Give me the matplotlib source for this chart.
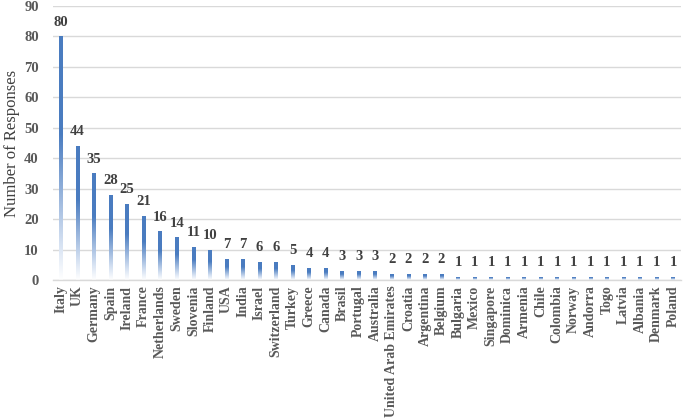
import matplotlib
matplotlib.use("Agg")
import matplotlib.pyplot as plt
import numpy as np
from matplotlib.colors import LinearSegmentedColormap

countries = ["Italy", "UK", "Germany", "Spain", "Ireland", "France", "Netherlands",
             "Sweden", "Slovenia", "Finland", "USA", "India", "Israel", "Switzerland",
             "Turkey", "Greece", "Canada", "Brasil", "Portugal", "Australia",
             "United Arab Emirates", "Croatia", "Argentina", "Belgium", "Bulgaria",
             "Mexico", "Singapore", "Dominica", "Armenia", "Chile", "Colombia",
             "Norway", "Andorra", "Togo", "Latvia", "Albania", "Denmark", "Poland"]
responses = [80, 44, 35, 28, 25, 21, 16, 14, 11, 10, 7, 7, 6, 6, 5, 4, 4, 3, 3, 3,
             2, 2, 2, 2, 1, 1, 1, 1, 1, 1, 1, 1, 1, 1, 1, 1, 1, 1]
y_ticks = [0, 10, 20, 30, 40, 50, 60, 70, 80, 90]

plt.rcParams['font.family'] = ['Liberation Serif', 'DejaVu Serif']

fig = plt.figure(figsize=(6.85, 4.2), dpi=100)
ax = fig.add_axes([0.077, 0.3333, 0.9176, 0.6524])

bar_color = "#4A7CC0"
cmap = LinearSegmentedColormap.from_list(
    "fade", [(0.0, "#FFFFFF"), (0.15, "#D5E1F2"), (0.6, bar_color), (1.0, bar_color)])
grad = np.linspace(0, 1, 256).reshape(-1, 1)

x = np.arange(len(countries))
w = 0.22
bars = ax.bar(x, responses, width=w, color="none", edgecolor="none", zorder=2)
for b in bars:
    x0 = b.get_x()
    h = b.get_height()
    im = ax.imshow(grad, extent=[x0, x0 + w, 0, h], origin="lower", cmap=cmap,
                   aspect="auto", zorder=2, interpolation="bilinear")
    im.set_clip_path(b)

for xi, v in zip(x, responses):
    ax.annotate(str(v), (xi, v), xytext=(0, 5.5), textcoords="offset points",
                ha="center", va="bottom", fontsize=10.5, fontweight="bold",
                color="#404040")

ax.set_xlim(-0.5, len(countries) - 0.5)
ax.set_ylim(0, 90)
ax.set_yticks(y_ticks)
ax.set_xticks(x)
ax.set_xticklabels(countries, rotation=90, fontsize=10, fontweight="bold",
                   color="#595959")
ax.tick_params(axis="y", labelsize=10.5, labelcolor="#595959", length=0, pad=10)
for lab in ax.get_yticklabels():
    lab.set_fontweight("bold")
ax.tick_params(axis="x", length=0, pad=4)
ax.yaxis.grid(True, color="#D9D9D9", linewidth=1, zorder=0)
ax.set_axisbelow(True)
for s in ["top", "right", "left"]:
    ax.spines[s].set_visible(False)
ax.spines["bottom"].set_color("#D9D9D9")
ax.spines["bottom"].set_linewidth(1)
ax.set_ylabel("Number of Responses", fontsize=12, color="#404040", labelpad=3)

fig.savefig("out.png", dpi=100)
